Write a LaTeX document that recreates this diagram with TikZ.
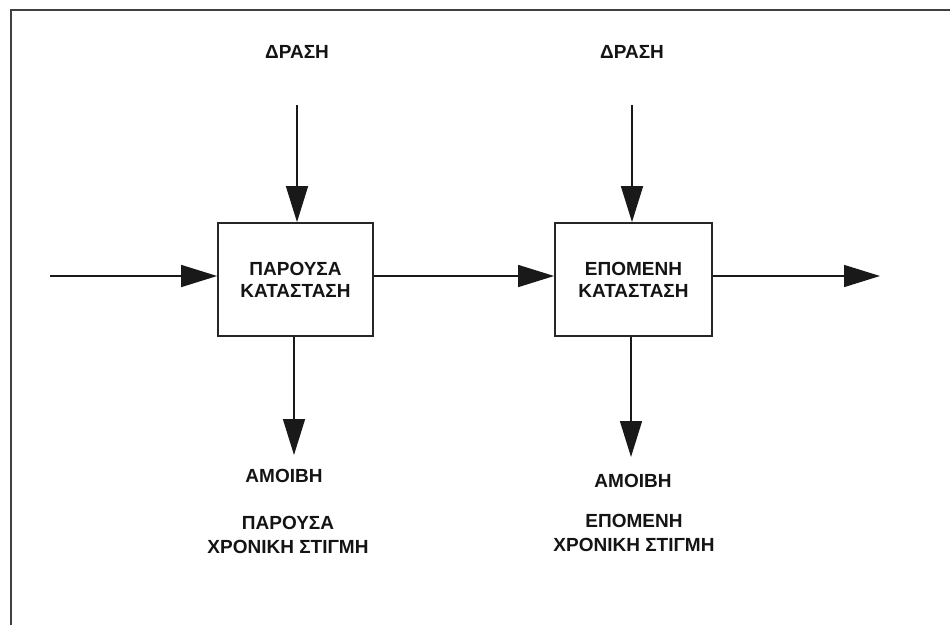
\documentclass[tikz,border=0pt]{standalone}
\usepackage{fontspec}
\setmainfont{Liberation Sans}
\usetikzlibrary{arrows.meta}
\begin{document}
\begin{tikzpicture}[x=1pt,y=-1pt,
  lbl/.style={font=\fontsize{19}{22}\selectfont\bfseries, text=black!92, align=center, inner sep=0pt},
  state/.style={draw=black!85, line width=1.8pt, minimum width=155pt, minimum height=113pt, inner sep=0pt,
                font=\fontsize{19}{22}\selectfont\bfseries, text=black!92, align=center},
  flow/.style={draw=black!90, line width=1.5pt, -{Triangle[length=36pt,width=22pt]}},
  frameline/.style={draw=black!75, line width=2.6pt}]
\useasboundingbox (0,0) rectangle (950,625);
% frame edges
\draw[frameline] (11,625) -- (11,10) -- (950,10);

% state boxes
\node[state] (cur) at (295.5,279.5) {ΠΑΡΟΥΣΑ\\ΚΑΤΑΣΤΑΣΗ};
\node[state, minimum width=157pt] (nxt) at (633.5,279.5) {ΕΠΟΜΕΝΗ\\ΚΑΤΑΣΤΑΣΗ};

% labels
\node[lbl] (act1) at (297,52) {ΔΡΑΣΗ};
\node[lbl] (act2) at (632,52) {ΔΡΑΣΗ};
\node[lbl] (rew1) at (284,476) {ΑΜΟΙΒΗ};
\node[lbl] (rew2) at (633,481) {ΑΜΟΙΒΗ};
\node[lbl, font=\fontsize{19}{24}\selectfont\bfseries] (t1) at (288,535) {ΠΑΡΟΥΣΑ\\ΧΡΟΝΙΚΗ ΣΤΙΓΜΗ};
\node[lbl, font=\fontsize{19}{24}\selectfont\bfseries] (t2) at (634,533) {ΕΠΟΜΕΝΗ\\ΧΡΟΝΙΚΗ ΣΤΙΓΜΗ};

% free ends of the connectors
\coordinate (in) at (50,276);
\coordinate (out) at (880,276);
\coordinate (a1) at (297,105);
\coordinate (a2) at (632,105);
\coordinate (r1) at (294,455);
\coordinate (r2) at (631,457);

% connectors
\draw[flow] (in) -- (cur.west |- in);
\draw[flow] (cur.east |- in) -- (nxt.west |- in);
\draw[flow] (nxt.east |- out) -- (out);
\draw[flow] (a1) -- (cur.north -| a1);
\draw[flow] (a2) -- (nxt.north -| a2);
\draw[flow] (cur.south -| r1) -- (r1);
\draw[flow] (nxt.south -| r2) -- (r2);
\end{tikzpicture}
\end{document}
